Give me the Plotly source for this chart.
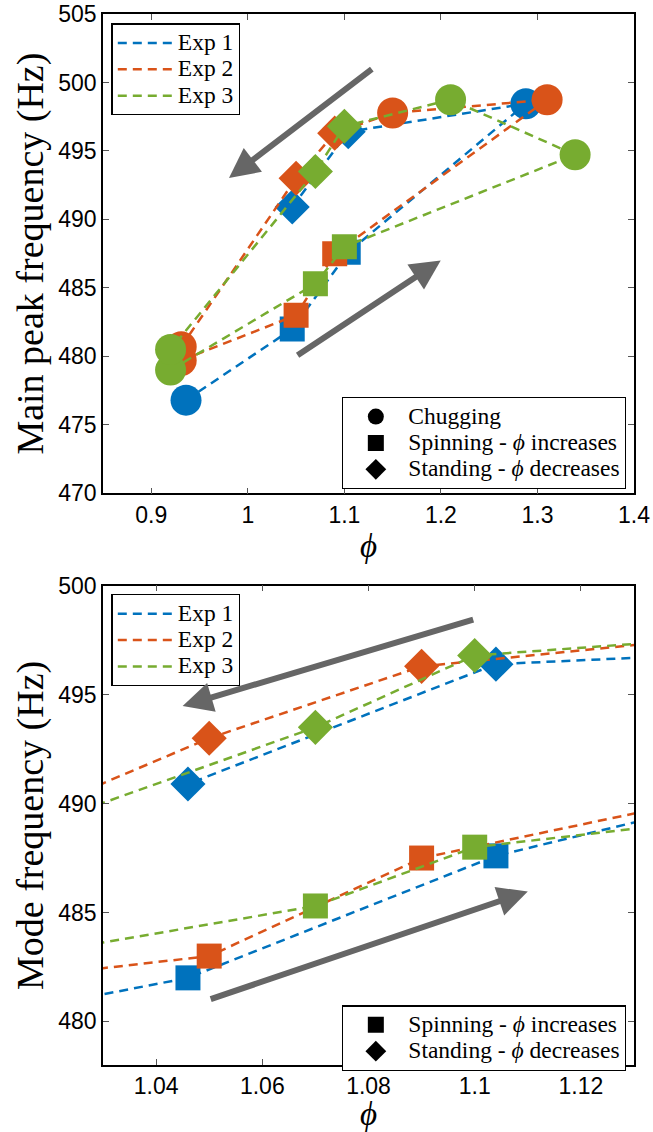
import plotly.graph_objects as go
import numpy as np

# ---------------- data ----------------
exp_names = ["Exp 1", "Exp 2", "Exp 3"]
exp_colors = ["#0072BD", "#D95319", "#77AC30"]

# path order: chugging (low phi) -> spinning (phi up) -> chugging (high phi) -> standing (phi down)
exp1_phi = [0.936, 1.046, 1.104, 1.288, 1.104, 1.046]
exp1_freq = [476.8, 482.0, 487.6, 498.45, 496.4, 490.9]
exp1_regime = ["C", "S", "S", "C", "D", "D"]

exp2_phi = [0.931, 1.050, 1.090, 1.310, 1.150, 1.090, 1.050, 0.931]
exp2_freq = [479.7, 483.0, 487.5, 498.74, 497.77, 496.3, 493.0, 480.7]
exp2_regime = ["C", "S", "S", "C", "C", "D", "D", "C"]

exp3_phi = [0.920, 1.070, 1.100, 1.339, 1.210, 1.100, 1.070, 0.920]
exp3_freq = [479.0, 485.3, 488.0, 494.72, 498.74, 496.8, 493.5, 480.5]
exp3_regime = ["C", "S", "S", "C", "C", "D", "D", "C"]

regime_labels = {
    "C": "Chugging",
    "S": "Spinning - <i>ϕ</i> increases",
    "D": "Standing - <i>ϕ</i> decreases",
}

top_xticks = [0.9, 1.0, 1.1, 1.2, 1.3, 1.4]
top_xticklabels = ["0.9", "1", "1.1", "1.2", "1.3", "1.4"]
top_yticks = [470, 475, 480, 485, 490, 495, 500, 505]
bot_xticks = [1.04, 1.06, 1.08, 1.10, 1.12]
bot_xticklabels = ["1.04", "1.06", "1.08", "1.1", "1.12"]
bot_yticks = [480, 485, 490, 495, 500]

# ---------------- styling ----------------
ARROW_GRAY = "#666666"
SERIF = "Liberation Serif"
SANS = "Liberation Sans"
LEG_SPAN = '<span style="font-size:23.5px">{}</span>'

experiments = [
    (exp1_phi, exp1_freq, exp1_regime),
    (exp2_phi, exp2_freq, exp2_regime),
    (exp3_phi, exp3_freq, exp3_regime),
]

fig = go.Figure()


def add_panel(xa, ya, line_legend, marker_legend, legend_regimes):
    for (phi, freq, reg), name, col in zip(experiments, exp_names, exp_colors):
        phi = np.array(phi)
        freq = np.array(freq)
        reg = np.array(reg)
        fig.add_trace(go.Scatter(
            x=phi, y=freq, mode="lines", name=LEG_SPAN.format(name),
            line=dict(color=col, width=2.5, dash="9px,6px"),
            xaxis=xa, yaxis=ya, legend=line_legend, showlegend=True,
            hoverinfo="skip"))
        m = reg == "C"
        fig.add_trace(go.Scatter(
            x=phi[m], y=freq[m], mode="markers",
            marker=dict(symbol="circle", size=31, color=col),
            xaxis=xa, yaxis=ya, showlegend=False))
        m = reg == "S"
        fig.add_trace(go.Scatter(
            x=phi[m], y=freq[m], mode="markers",
            marker=dict(symbol="square", size=25, color=col),
            xaxis=xa, yaxis=ya, showlegend=False))
        m = reg == "D"
        fig.add_trace(go.Scatter(
            x=phi[m], y=freq[m], mode="markers",
            marker=dict(symbol="diamond", size=27, color=col),
            xaxis=xa, yaxis=ya, showlegend=False))
    symbols = {"C": "circle", "S": "square", "D": "diamond"}
    for r in legend_regimes:
        fig.add_trace(go.Scatter(
            x=[None], y=[None], mode="markers",
            marker=dict(symbol=symbols[r], size=16, color="black"),
            name=LEG_SPAN.format(regime_labels[r]),
            xaxis=xa, yaxis=ya, legend=marker_legend, showlegend=True))


add_panel("x", "y", "legend", "legend2", ["C", "S", "D"])
add_panel("x2", "y2", "legend3", "legend4", ["S", "D"])

axis_common = dict(
    showline=True, linecolor="black", linewidth=1.5, mirror="ticks",
    ticks="inside", ticklen=6, tickwidth=1, tickcolor="#555555",
    showgrid=False, zeroline=False, automargin=False,
    ticklabeloverflow="allow",
    tickfont=dict(family=SANS, size=23, color="black"),
)

fig.update_layout(
    width=653, height=1132,
    margin=dict(l=103, r=19, t=14, b=67, autoexpand=False),
    plot_bgcolor="white", paper_bgcolor="white",
    xaxis=dict(domain=[0, 1], anchor="y", range=[0.85, 1.4],
               tickvals=top_xticks, ticktext=top_xticklabels,
               title=dict(text="<i>ϕ</i>", font=dict(family=SERIF, size=33, color="black"), standoff=0),
               **axis_common),
    yaxis=dict(domain=[0.544, 1], anchor="x", range=[470, 505],
               tickvals=top_yticks,
               title=dict(text="Main peak frequency (Hz)", font=dict(family=SERIF, size=38, color="black"), standoff=3),
               **axis_common),
    xaxis2=dict(domain=[0, 1], anchor="y2", range=[1.03, 1.13],
                tickvals=bot_xticks, ticktext=bot_xticklabels,
                title=dict(text="<i>ϕ</i>", font=dict(family=SERIF, size=33, color="black"), standoff=0),
                **axis_common),
    yaxis2=dict(domain=[0, 0.456], anchor="x2", range=[478, 500],
                tickvals=bot_yticks,
                title=dict(text="Mode frequency (Hz)", font=dict(family=SERIF, size=38, color="black"), standoff=3),
                **axis_common),
)

leg_common = dict(bordercolor="black", borderwidth=1.3, bgcolor="white",
                  font=dict(family=SERIF, size=18, color="black"), tracegroupgap=0,
                  itemwidth=55)
fig.update_layout(
    legend=dict(x=0.016, y=0.991, xanchor="left", yanchor="top", **leg_common),
    legend2=dict(x=0.985, y=0.548, xanchor="right", yanchor="bottom", **leg_common),
    legend3=dict(x=0.016, y=0.448, xanchor="left", yanchor="top", **leg_common),
    legend4=dict(x=0.985, y=-0.006, xanchor="right", yanchor="bottom", **leg_common),
)

# direction arrows (tail -> head), in data coordinates
arrows = [
    ("x", "y", (1.130, 501.06), (0.9805, 493.02)),
    ("x", "y", (1.050, 480.0), (1.1998, 487.0)),
    ("x2", "y2", (1.100, 498.46), (1.045, 494.48)),
    ("x2", "y2", (1.050, 481.0), (1.110, 485.96)),
]
for xr, yr, tail, head in arrows:
    fig.add_annotation(
        x=head[0], y=head[1], ax=tail[0], ay=tail[1],
        xref=xr, yref=yr, axref=xr, ayref=yr,
        text="", showarrow=True, arrowhead=2, arrowsize=1.0,
        arrowwidth=6, arrowcolor=ARROW_GRAY, standoff=0)

# remove the default 8px page margin so the figure fills the window exactly
fig.write_html("out.html", config={"displayModeBar": False},
               post_script="document.body.style.margin='0';")
